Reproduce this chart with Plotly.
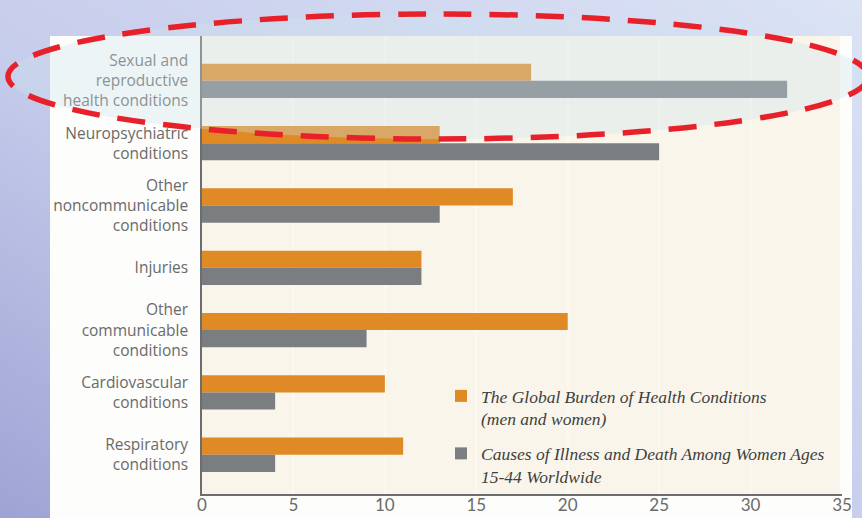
import base64
import plotly.graph_objects as go

# ---------------- data ----------------
categories = [
    "Sexual and reproductive health conditions",
    "Neuropsychiatric conditions",
    "Other noncommunicable conditions",
    "Injuries",
    "Other communicable conditions",
    "Cardiovascular conditions",
    "Respiratory conditions",
]
category_labels = [
    "Sexual and<br>reproductive<br>health conditions",
    "Neuropsychiatric<br>conditions",
    "Other<br>noncommunicable<br>conditions",
    "Injuries",
    "Other<br>communicable<br>conditions",
    "Cardiovascular<br>conditions",
    "Respiratory<br>conditions",
]
global_burden = [18, 13, 17, 12, 20, 10, 11]
women_15_44 = [32, 25, 13, 12, 9, 4, 4]
series_names = [
    "The Global Burden of Health Conditions<br>(men and women)",
    "Causes of Illness and Death Among Women Ages<br>15-44 Worldwide",
]
x_ticks = [0, 5, 10, 15, 20, 25, 30, 35]

# ---------------- geometry (pixels) ----------------
W, H = 862, 518
L, R, T, B = 202, 20, 36, 24
pw, ph = W - L - R, H - T - B


def px(x):
    return (x - L) / pw


def py(y):
    return (H - B - y) / ph


ORANGE = "#df8a24"
GRAY = "#7b7e81"

fig = go.Figure()
fig.add_trace(go.Bar(y=categories, x=global_burden, orientation="h",
                     name=series_names[0], marker_color=ORANGE,
                     marker_line_width=0, legendgroup="a"))
fig.add_trace(go.Bar(y=categories, x=women_15_44, orientation="h",
                     name=series_names[1], marker_color=GRAY,
                     marker_line_width=0, legendgroup="b"))

# background gradient as an svg image
svg = f'''<svg xmlns="http://www.w3.org/2000/svg" width="{W}" height="{H}">
<defs><linearGradient id="g" x1="0" y1="1" x2="1" y2="0">
<stop offset="0" stop-color="#9ea3d4"/>
<stop offset="0.45" stop-color="#c6cceb"/>
<stop offset="1" stop-color="#dbe3f5"/>
</linearGradient></defs>
<rect width="{W}" height="{H}" fill="url(#g)"/></svg>'''
src = "data:image/svg+xml;base64," + base64.b64encode(svg.encode()).decode()
fig.add_layout_image(dict(source=src, xref="paper", yref="paper",
                          x=px(0), y=py(0), sizex=W / pw, sizey=H / ph,
                          xanchor="left", yanchor="top", sizing="stretch",
                          layer="below"))

shapes = [
    # white panel
    dict(type="rect", xref="paper", yref="paper", x0=px(50), x1=px(852),
         y0=py(600), y1=py(36), fillcolor="#fdfdfb", line_width=0, layer="below"),
    # cream plot area
    dict(type="rect", xref="paper", yref="paper", x0=0, x1=px(840),
         y0=0, y1=1, fillcolor="#f9f5ea", line_width=0, layer="below"),
    # highlight ellipse
    dict(type="circle", xref="paper", yref="paper", x0=px(8), x1=px(868),
         y0=py(139), y1=py(14), fillcolor="rgba(205,228,238,0.33)",
         line=dict(color="#e8202a", width=5.5, dash="28px,18px"), layer="above"),
]
fig.update_layout(shapes=shapes)

fig.update_layout(
    width=W, height=H,
    margin=dict(l=L, r=R, t=T, b=B, pad=0, autoexpand=False),
    paper_bgcolor="#cdd3ee",
    plot_bgcolor="rgba(0,0,0,0)",
    barmode="group", bargap=0.45, bargroupgap=0,
    showlegend=True,
    legend=dict(x=px(441), y=py(378), xanchor="left", yanchor="top",
                bgcolor="rgba(0,0,0,0)", traceorder="grouped", valign="top",
                font=dict(family="Liberation Serif", size=17.5, color="#3f3f3f",
                          style="italic"),
                tracegroupgap=9, itemwidth=30),
    xaxis=dict(range=[0, 35], tickvals=x_ticks, showgrid=True, automargin=False,
               gridcolor="#fcf9f1", gridwidth=2, zeroline=False,
               showline=True, linecolor="#6d6d6d", linewidth=2,
               ticks="", ticklabelstandoff=-5,
               tickfont=dict(family="Lato", size=17, color="#6a6a6a")),
    yaxis=dict(categoryorder="array", categoryarray=categories, automargin=False,
               tickvals=categories, ticktext=category_labels,
               range=[6.63, -0.72], showgrid=False, zeroline=False,
               showline=True, linecolor="#6d6d6d", linewidth=1.5,
               ticks="outside", ticklen=9, tickcolor="rgba(0,0,0,0)",
               tickfont=dict(family="Open Sans", size=15.5, color="#6a6a6a")),
)

fig.write_html("out.html", config={"displayModeBar": False},
               post_script="document.body.style.margin='0';"
                           "document.body.style.overflow='hidden';")
